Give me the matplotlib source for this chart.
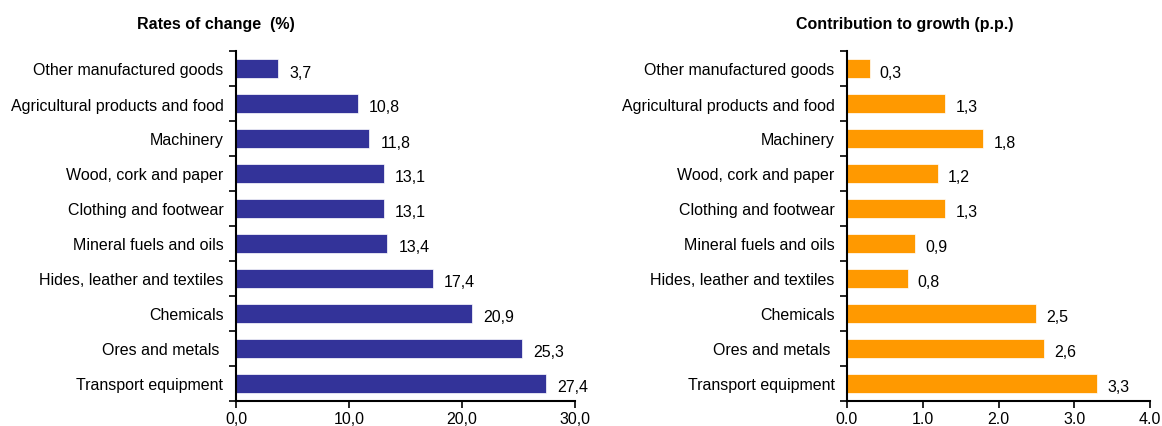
import matplotlib
matplotlib.use("Agg")
import numpy as np
from matplotlib import pyplot as plt
from matplotlib.ticker import FuncFormatter

plt.rcParams['font.family'] = ['Liberation Sans', 'DejaVu Sans']

categories = ['Other manufactured goods', 'Agricultural products and food', 'Machinery',
              'Wood, cork and paper', 'Clothing and footwear', 'Mineral fuels and oils',
              'Hides, leather and textiles', 'Chemicals', 'Ores and metals ', 'Transport equipment']
rates = [3.7, 10.8, 11.8, 13.1, 13.1, 13.4, 17.4, 20.9, 25.3, 27.4]
contrib = [0.3, 1.3, 1.8, 1.2, 1.3, 0.9, 0.8, 2.5, 2.6, 3.3]

fig = plt.figure(figsize=(11.62, 4.27), dpi=100)
W, H = 1162, 427
FS = 11.5

def panel(x0, x1, values, color, xmax, tick_fmt, title, title_x):
    ax = fig.add_axes([x0 / W, 1 - 402 / H, (x1 - x0) / W, 350 / H])
    y = np.arange(len(categories))
    ax.barh(y, values, height=0.57, color=color, edgecolor='white', linewidth=0.5)
    ax.set_ylim(len(categories) - 0.5, -0.5)
    ax.set_xlim(0, xmax)
    ax.set_yticks(y)
    ax.set_yticklabels(categories, fontsize=FS)
    ax.set_yticks(np.arange(-0.5, len(categories), 1), minor=True)
    ax.tick_params(axis='y', which='major', length=0, pad=9)
    ax.tick_params(axis='y', which='minor', length=5, width=1.2, direction='out')
    ax.set_xticks(np.linspace(0, xmax, 5 if xmax < 10 else 4))
    ax.xaxis.set_major_formatter(FuncFormatter(tick_fmt))
    ax.tick_params(axis='x', length=5, width=1.2, direction='out', labelsize=FS, pad=2)
    for s in ['top', 'right']:
        ax.spines[s].set_visible(False)
    for s in ['left', 'bottom']:
        ax.spines[s].set_linewidth(1.5)
    for yi, v in zip(y, values):
        ax.text(v + xmax * 0.033, yi + 0.1, f'{v:.1f}'.replace('.', ','), va='center',
                ha='left', fontsize=FS)
    fig.text(title_x / W, 1 - 24 / H, title, ha='center', va='center',
             fontsize=11.5, fontweight='bold')
    return ax

panel(236, 575, rates, '#333399', 30, lambda v, p: f'{v:.1f}'.replace('.', ','),
      'Rates of change  (%)', 216)
panel(847, 1150, contrib, '#FF9900', 4, lambda v, p: f'{v:.1f}',
      'Contribution to growth (p.p.)', 905)

fig.savefig('out.png', dpi=100)
